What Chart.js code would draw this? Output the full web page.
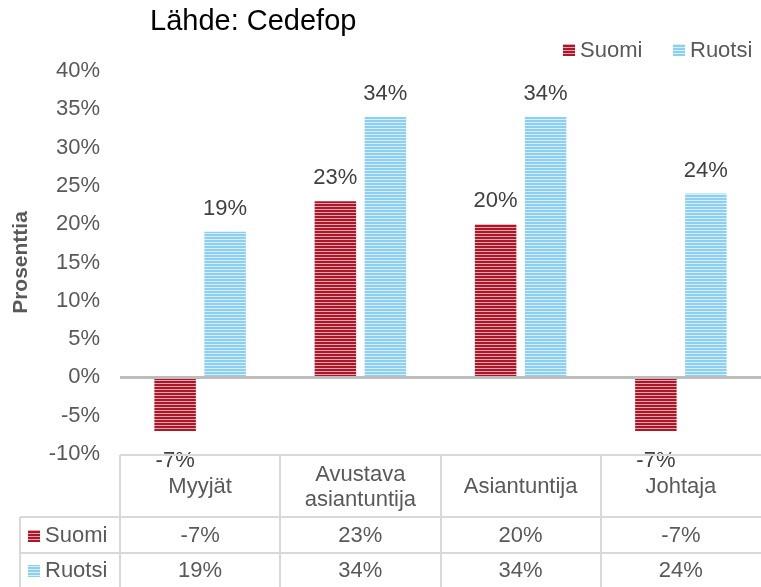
<!DOCTYPE html>
<html>
<head>
<meta charset="utf-8">
<script src="https://cdn.jsdelivr.net/npm/chart.js@4/dist/chart.umd.min.js"></script>
<style>
  html, body { margin: 0; padding: 0; background: #fff; }
  #wrap { width: 761px; height: 587px; position: relative; }
</style>
</head>
<body>
<div id="wrap"><canvas id="chart"></canvas></div>
<script>
// data
const categories = [['Myyjät'], ['Avustava', 'asiantuntija'], ['Asiantuntija'], ['Johtaja']];
const seriesNames = ['Suomi', 'Ruotsi'];
const suomi = [-7, 23, 20, -7];
const ruotsi = [19, 34, 34, 24];
const yMin = -10;
const yMax = 40;
const yStep = 5;
const sourceText = 'Lähde: Cedefop';
const yTitle = 'Prosenttia';

const FONT = '"Liberation Sans", Arial, sans-serif';
const GREY = '#595959';

const stripes = (dark, light) => {
    const c = document.createElement('canvas');
    c.width = 1; c.height = 3;
    const g = c.getContext('2d');
    g.fillStyle = dark; g.fillRect(0, 0, 1, 3);
    g.fillStyle = light; g.fillRect(0, 2, 1, 1);
    return g.createPattern(c, 'repeat');
};
const redFill = stripes('#a8172a', '#eba2a9');
const blueFill = stripes('#8dcff3', '#d6effb');
const fills = [redFill, blueFill];

const pct = v => v + '%';

// title, legend, value labels and the data table under the plot
const extras = {
    id: 'extras',
    afterDatasetsDraw(chart) {
        const ctx = chart.ctx;
        ctx.save();

        // value labels
        ctx.font = '22px ' + FONT;
        ctx.fillStyle = '#404040';
        ctx.textAlign = 'center';
        ctx.textBaseline = 'middle';
        chart.data.datasets.forEach((ds, di) => {
            chart.getDatasetMeta(di).data.forEach((bar, i) => {
                const v = ds.data[i];
                const y = v >= 0 ? bar.y - 23 : bar.y + 30;
                ctx.fillText(pct(v), bar.x, y);
            });
        });

        // source title
        ctx.font = '29px ' + FONT;
        ctx.fillStyle = '#000';
        ctx.textAlign = 'left';
        ctx.fillText(sourceText, 150, 22);

        // legend
        ctx.font = '22px ' + FONT;
        const legendX = [563, 673];
        seriesNames.forEach((name, i) => {
            ctx.fillStyle = fills[i];
            ctx.fillRect(legendX[i], 44, 12, 12);
            ctx.fillStyle = GREY;
            ctx.fillText(name, legendX[i] + 17, 51);
        });

        // data table
        const area = chart.chartArea;
        const xs = chart.scales.x;
        const colW = (area.right - area.left) / categories.length;
        const top = 455;
        const row1 = 517, row2 = 553, bottom = 587;
        ctx.strokeStyle = '#d9d9d9';
        ctx.lineWidth = 2;
        ctx.beginPath();
        ctx.moveTo(area.left, top); ctx.lineTo(area.right, top);
        ctx.moveTo(20, row1); ctx.lineTo(area.right, row1);
        ctx.moveTo(20, row2); ctx.lineTo(area.right, row2);
        ctx.moveTo(20, row1); ctx.lineTo(20, bottom);
        for (let i = 0; i < categories.length; i++) {
            const x = Math.round(area.left + i * colW);
            ctx.moveTo(x, top); ctx.lineTo(x, bottom);
        }
        ctx.stroke();

        ctx.font = '22px ' + FONT;
        ctx.fillStyle = GREY;
        ctx.textAlign = 'center';
        categories.forEach((lines, i) => {
            const cx = xs.getPixelForValue(i);
            lines.forEach((line, li) => {
                ctx.fillText(line, cx, 487 - (lines.length - 1) * 12.5 + li * 25);
            });
        });
        const rows = [suomi, ruotsi];
        const rowY = [536, 571];
        rows.forEach((vals, r) => {
            vals.forEach((v, i) => {
                ctx.fillText(pct(v), xs.getPixelForValue(i), rowY[r]);
            });
        });
        ctx.textAlign = 'left';
        seriesNames.forEach((name, r) => {
            ctx.fillStyle = fills[r];
            ctx.fillRect(28, rowY[r] - 6, 12, 12);
            ctx.fillStyle = GREY;
            ctx.fillText(name, 45, rowY[r]);
        });

        ctx.restore();
    }
};

const chart = new Chart(document.getElementById('chart'), {
    type: 'bar',
    data: {
        labels: categories.map(c => c.join(' ')),
        datasets: [
            { label: seriesNames[0], data: suomi, backgroundColor: redFill, borderWidth: 0 },
            { label: seriesNames[1], data: ruotsi, backgroundColor: blueFill, borderWidth: 0 }
        ]
    },
    options: {
        responsive: true,
        maintainAspectRatio: false,
        animation: false,
        layout: { padding: { top: 71, bottom: 133, left: 0, right: 0 } },
        datasets: { bar: { categoryPercentage: 0.624, barPercentage: 0.83 } },
        plugins: { legend: { display: false }, tooltip: { enabled: false } },
        scales: {
            x: { display: false },
            y: {
                min: yMin,
                max: yMax,
                z: 1,
                afterFit: s => { s.width = 120; },
                ticks: {
                    stepSize: yStep,
                    padding: 20,
                    color: GREY,
                    font: { family: FONT, size: 22 },
                    callback: v => pct(v)
                },
                grid: {
                    drawTicks: false,
                    lineWidth: 3,
                    color: c => (c.tick && c.tick.value === 0) ? '#bdbdbd' : 'rgba(0,0,0,0)'
                },
                border: { display: false },
                title: {
                    display: true,
                    text: yTitle,
                    color: GREY,
                    font: { family: FONT, size: 21, weight: 'bold' },
                    padding: { top: 9, bottom: 0 }
                }
            }
        }
    },
    plugins: [extras]
});
</script>
</body>
</html>
